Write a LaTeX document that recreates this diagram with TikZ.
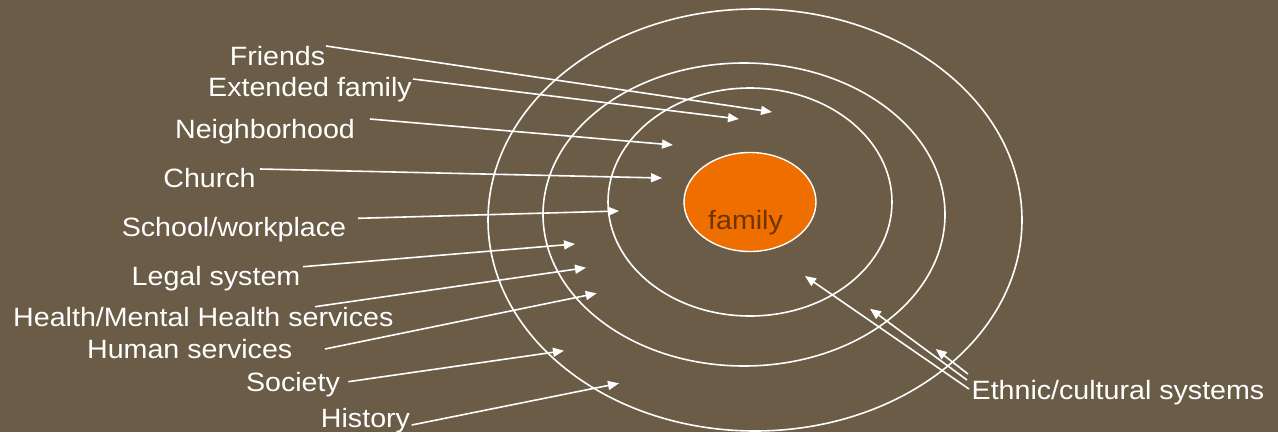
\documentclass[tikz,border=0pt]{standalone}
\usepackage{fontspec}
\setmainfont{Liberation Sans}[FakeStretch=1.08]
\usetikzlibrary{arrows.meta,shapes.geometric}
\definecolor{bgbrown}{HTML}{6A5C47}
\definecolor{famorange}{HTML}{EF6E00}
\definecolor{famtext}{HTML}{703400}
\tikzset{
  lbl/.style={anchor=base, inner sep=0pt, text=white, font=\fontsize{26.5}{30}\selectfont},
  ring/.style={draw=white, line width=1.6pt},
  conn/.style={draw=white, line width=1.6pt, -{Triangle[length=11pt,width=9pt]}}
}
\begin{document}
\begin{tikzpicture}[x=1pt,y=-1pt]
\useasboundingbox (0,0) rectangle (1278,432);
\fill[bgbrown] (0,0) rectangle (1278,432);
% rings
\draw[ring] (755,220) ellipse [x radius=267pt, y radius=211pt];
\draw[ring] (744,214.5) ellipse [x radius=201pt, y radius=151.5pt];
\draw[ring] (750,202) ellipse [x radius=142pt, y radius=114pt];
% family
\node[ellipse, draw=white, line width=1.4pt, fill=famorange, minimum width=132pt, minimum height=99pt, inner sep=0pt] (family) at (750,202) {};
\node[lbl, text=famtext] (famlabel) at (745.5,229) {family};
% labels
\node[lbl] (friends) at (277.5,65.7) {Friends};
\node[lbl] (extended) at (310,96.7) {Extended family};
\node[lbl] (neigh) at (265,138) {Neighborhood};
\node[lbl] (church) at (209.5,187.3) {Church};
\node[lbl] (school) at (234,236) {School/workplace};
\node[lbl] (legal) at (216,285) {Legal system};
\node[lbl] (health) at (203.3,326) {Health/Mental Health services};
\node[lbl] (human) at (189.7,358.3) {Human services};
\node[lbl] (society) at (293,391.7) {Society};
\node[lbl] (history) at (365.5,427.3) {History};
\node[lbl] (ethnic) at (1118,399.3) {Ethnic/cultural systems};
% connector ends
\coordinate (friends-o) at (326,46);
\coordinate (friends-i) at (772,112);
\coordinate (extended-o) at (413,79);
\coordinate (extended-i) at (739,119);
\coordinate (neigh-o) at (370,119);
\coordinate (neigh-i) at (673,145);
\coordinate (church-o) at (260,169);
\coordinate (church-i) at (662,178);
\coordinate (school-o) at (358,218.3);
\coordinate (school-i) at (619,211);
\coordinate (legal-o) at (303,266.7);
\coordinate (legal-i) at (575,244);
\coordinate (health-o) at (315,306.7);
\coordinate (health-i) at (586,267.7);
\coordinate (human-o) at (325,349);
\coordinate (human-i) at (596.7,293.3);
\coordinate (society-o) at (348.3,381.7);
\coordinate (society-i) at (564,350.7);
\coordinate (history-o) at (411.7,425);
\coordinate (history-i) at (619,383.3);
\coordinate (ethnic-o1) at (969,389);
\coordinate (ethnic-i1) at (805,276);
\coordinate (ethnic-o2) at (967,380);
\coordinate (ethnic-i2) at (870,308.7);
\coordinate (ethnic-o3) at (968,374);
\coordinate (ethnic-i3) at (935.7,349);
% connectors
\draw[conn] (friends-o) -- (friends-i);
\draw[conn] (extended-o) -- (extended-i);
\draw[conn] (neigh-o) -- (neigh-i);
\draw[conn] (church-o) -- (church-i);
\draw[conn] (school-o) -- (school-i);
\draw[conn] (legal-o) -- (legal-i);
\draw[conn] (health-o) -- (health-i);
\draw[conn] (human-o) -- (human-i);
\draw[conn] (society-o) -- (society-i);
\draw[conn] (history-o) -- (history-i);
\draw[conn] (ethnic-o1) -- (ethnic-i1);
\draw[conn] (ethnic-o2) -- (ethnic-i2);
\draw[conn] (ethnic-o3) -- (ethnic-i3);
\end{tikzpicture}
\end{document}
